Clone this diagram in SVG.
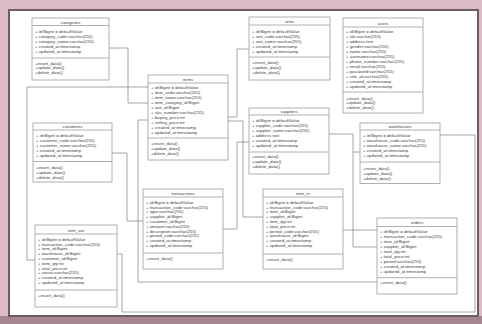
<svg xmlns="http://www.w3.org/2000/svg" width="482" height="324" viewBox="0 0 482 324">
  <style>
    .box { fill: #ffffff; stroke: #9c9c9c; stroke-width: 0.8; }
    .sep { stroke: #9c9c9c; stroke-width: 0.8; }
    .conn { fill: none; stroke: #8e8e8e; stroke-width: 0.8; }
    .t { font-family: "Liberation Sans", Arial, sans-serif; font-size: 4.3px; fill: #3c3c3c; }
    .title { font-family: "Liberation Sans", Arial, sans-serif; font-size: 4.3px; fill: #3c3c3c; text-anchor: middle; }
  </style>

  <!-- page frame -->
  <rect x="0" y="0" width="482" height="324" fill="#dcbac6"/>
  <rect x="0" y="316" width="482" height="8" fill="#a88593"/>
  <rect x="9" y="10" width="469" height="306" fill="#ffffff" stroke="#6b5d63" stroke-width="2"/>

  <!-- connectors -->
  <g id="connectors">
    <path class="conn" d="M109,48 H128 V103 H148"/>
    <path class="conn" d="M148,87 H27 V260 H35"/>
    <path class="conn" d="M249,49 H237 V117 H228"/>
    <path class="conn" d="M249,142 H237 V229 H223"/>
    <path class="conn" d="M228,121 H243 V217 H263"/>
    <path class="conn" d="M112,153 H127 V221 H143"/>
    <path class="conn" d="M148,120 H138 V282 H377"/>
    <path class="conn" d="M343,230 H377"/>
    <path class="conn" d="M329,134 H353 V247 H377"/>
    <path class="conn" d="M360,152 H353"/>
    <path class="conn" d="M117,254 H122 V312 H475 V135 H440"/>
  </g>

  <!-- categories -->
  <g id="categories">
    <rect class="box" x="32" y="18" width="77" height="62"/>
    <text class="title" x="70.5" y="23.5">categories</text>
    <line class="sep" x1="32" y1="25.5" x2="109" y2="25.5"/>
    <text class="t" x="35" y="33.2">+ id:Bigint = defaultValue<tspan x="35" dy="5">+ category_code:varchar(255)</tspan><tspan x="35" dy="5">+ category_name:varchar(255)</tspan><tspan x="35" dy="5">+ created_at:timestamp</tspan><tspan x="35" dy="5">+ updated_at:timestamp</tspan></text>
    <line class="sep" x1="32" y1="58" x2="109" y2="58"/>
    <text class="t" x="35" y="64.5">+insert_data()<tspan x="35" dy="4.6">+update_data()</tspan><tspan x="35" dy="4.6">+delete_data()</tspan></text>
  </g>

  <!-- items -->
  <g id="items">
    <rect class="box" x="148" y="75" width="80" height="85"/>
    <text class="title" x="188" y="80.5">items</text>
    <line class="sep" x1="148" y1="83" x2="228" y2="83"/>
    <text class="t" x="151" y="89.2">+ id:Bigint = defaultValue<tspan x="151" dy="5">+ item_code:varchar(255)</tspan><tspan x="151" dy="5">+ item_name:varchar(255)</tspan><tspan x="151" dy="5">+ item_category_id:Bigint</tspan><tspan x="151" dy="5">+ unit_id:Bigint</tspan><tspan x="151" dy="5">+ sku_number:varchar(255)</tspan><tspan x="151" dy="5">+ buying_price:int</tspan><tspan x="151" dy="5">+ selling_price:int</tspan><tspan x="151" dy="5">+ created_at:timestamp</tspan><tspan x="151" dy="5">+ updated_at:timestamp</tspan></text>
    <line class="sep" x1="148" y1="138" x2="228" y2="138"/>
    <text class="t" x="151" y="144.5">+insert_data()<tspan x="151" dy="5">+update_data()</tspan><tspan x="151" dy="5">+delete_data()</tspan></text>
  </g>

  <!-- units -->
  <g id="units">
    <rect class="box" x="249" y="17" width="81" height="63"/>
    <text class="title" x="289.5" y="22.5">units</text>
    <line class="sep" x1="249" y1="25" x2="330" y2="25"/>
    <text class="t" x="252" y="33.2">+ id:Bigint = defaultValue<tspan x="252" dy="5">+ unit_code:varchar(255)</tspan><tspan x="252" dy="5">+ unit_name:varchar(255)</tspan><tspan x="252" dy="5">+ created_at:timestamp</tspan><tspan x="252" dy="5">+ updated_at:timestamp</tspan></text>
    <line class="sep" x1="249" y1="57" x2="330" y2="57"/>
    <text class="t" x="252" y="64.2">+insert_data()<tspan x="252" dy="5">+update_data()</tspan><tspan x="252" dy="5">+delete_data()</tspan></text>
  </g>

  <!-- users -->
  <g id="users">
    <rect class="box" x="343" y="18" width="80" height="95"/>
    <text class="title" x="383" y="24.5">users</text>
    <line class="sep" x1="343" y1="27" x2="423" y2="27"/>
    <text class="t" x="346" y="33.2">+ id:Bigint = defaultValue<tspan x="346" dy="5">+ nik:varchar(255)</tspan><tspan x="346" dy="5">+ address:text</tspan><tspan x="346" dy="5">+ gender:varchar(255)</tspan><tspan x="346" dy="5">+ name:varchar(255)</tspan><tspan x="346" dy="5">+ username:varchar(255)</tspan><tspan x="346" dy="5">+ phone_number:varchar(255)</tspan><tspan x="346" dy="5">+ email:varchar(255)</tspan><tspan x="346" dy="5">+ password:varchar(255)</tspan><tspan x="346" dy="5">+ role_id:varchar(255)</tspan><tspan x="346" dy="5">+ created_at:timestamp</tspan><tspan x="346" dy="5">+ updated_at:timestamp</tspan></text>
    <line class="sep" x1="343" y1="92" x2="423" y2="92"/>
    <text class="t" x="346" y="99.5">+insert_data()<tspan x="346" dy="4.8">+update_data()</tspan><tspan x="346" dy="4.8">+delete_data()</tspan></text>
  </g>

  <!-- customers -->
  <g id="customers">
    <rect class="box" x="33" y="123" width="79" height="59"/>
    <text class="title" x="72.5" y="127.8">customers</text>
    <line class="sep" x1="33" y1="130" x2="112" y2="130"/>
    <text class="t" x="36" y="136.5">+ id:Bigint = defaultValue<tspan x="36" dy="5">+ customer_code:varchar(255)</tspan><tspan x="36" dy="5">+ customer_name:varchar(255)</tspan><tspan x="36" dy="5">+ created_at:timestamp</tspan><tspan x="36" dy="5">+ updated_at:timestamp</tspan></text>
    <line class="sep" x1="33" y1="161.5" x2="112" y2="161.5"/>
    <text class="t" x="36" y="168.8">+insert_data()<tspan x="36" dy="5">+update_data()</tspan><tspan x="36" dy="5">+delete_data()</tspan></text>
  </g>

  <!-- suppliers -->
  <g id="suppliers">
    <rect class="box" x="249" y="108" width="80" height="66"/>
    <text class="title" x="289" y="112.8">suppliers</text>
    <line class="sep" x1="249" y1="115" x2="329" y2="115"/>
    <text class="t" x="252" y="121.5">+ id:Bigint = defaultValue<tspan x="252" dy="5">+ supplier_code:varchar(255)</tspan><tspan x="252" dy="5">+ supplier_name:varchar(255)</tspan><tspan x="252" dy="5">+ address:text</tspan><tspan x="252" dy="5">+ created_at:timestamp</tspan><tspan x="252" dy="5">+ updated_at:timestamp</tspan></text>
    <line class="sep" x1="249" y1="152" x2="329" y2="152"/>
    <text class="t" x="252" y="158.2">+insert_data()<tspan x="252" dy="5">+update_data()</tspan><tspan x="252" dy="5">+delete_data()</tspan></text>
  </g>

  <!-- warehouses -->
  <g id="warehouses">
    <rect class="box" x="360" y="123" width="80" height="60.5"/>
    <text class="title" x="400" y="127.8">warehouses</text>
    <line class="sep" x1="360" y1="130" x2="440" y2="130"/>
    <text class="t" x="363" y="136.5">+ id:Bigint = defaultValue<tspan x="363" dy="5">+ warehouse_code:varchar(255)</tspan><tspan x="363" dy="5">+ warehouse_name:varchar(255)</tspan><tspan x="363" dy="5">+ created_at:timestamp</tspan><tspan x="363" dy="5">+ updated_at:timestamp</tspan></text>
    <line class="sep" x1="360" y1="162" x2="440" y2="162"/>
    <text class="t" x="363" y="169.5">+insert_data()<tspan x="363" dy="5">+update_data()</tspan><tspan x="363" dy="5">+delete_data()</tspan></text>
  </g>

  <!-- transactions -->
  <g id="transactions">
    <rect class="box" x="143" y="189" width="80" height="80"/>
    <text class="title" x="183" y="194.8">transactions</text>
    <line class="sep" x1="143" y1="197" x2="223" y2="197"/>
    <text class="t" x="146" y="203.8">+ id:Bigint = defaultValue<tspan x="146" dy="4.8">+ transaction_code:varchar(255)</tspan><tspan x="146" dy="4.8">+ type:varchar(255)</tspan><tspan x="146" dy="4.8">+ supplier_id:Bigint</tspan><tspan x="146" dy="4.8">+ customer_id:Bigint</tspan><tspan x="146" dy="4.8">+ amount:varchar(255)</tspan><tspan x="146" dy="4.8">+ description:varchar(255)</tspan><tspan x="146" dy="4.8">+ period_code:varchar(255)</tspan><tspan x="146" dy="4.8">+ created_at:timestamp</tspan><tspan x="146" dy="4.8">+ updated_at:timestamp</tspan></text>
    <line class="sep" x1="143" y1="253" x2="223" y2="253"/>
    <text class="t" x="146" y="259.8">+insert_data()</text>
  </g>

  <!-- item_in -->
  <g id="item_in">
    <rect class="box" x="263" y="189" width="80" height="80"/>
    <text class="title" x="303" y="194.8">item_in</text>
    <line class="sep" x1="263" y1="197" x2="343" y2="197"/>
    <text class="t" x="266" y="203.8">+ id:Bigint = defaultValue<tspan x="266" dy="4.8">+ transaction_code:varchar(255)</tspan><tspan x="266" dy="4.8">+ item_id:Bigint</tspan><tspan x="266" dy="4.8">+ supplier_id:Bigint</tspan><tspan x="266" dy="4.8">+ item_qty:int</tspan><tspan x="266" dy="4.8">+ total_price:int</tspan><tspan x="266" dy="4.8">+ period_code:varchar(255)</tspan><tspan x="266" dy="4.8">+ warehouse_id:Bigint</tspan><tspan x="266" dy="4.8">+ created_at:timestamp</tspan><tspan x="266" dy="4.8">+ updated_at:timestamp</tspan></text>
    <line class="sep" x1="263" y1="254" x2="343" y2="254"/>
    <text class="t" x="266" y="260.5">+insert_data()</text>
  </g>

  <!-- orders -->
  <g id="orders">
    <rect class="box" x="377" y="218" width="80" height="76"/>
    <text class="title" x="417" y="224.2">orders</text>
    <line class="sep" x1="377" y1="226.5" x2="457" y2="226.5"/>
    <text class="t" x="380" y="233.2">+ id:Bigint = defaultValue<tspan x="380" dy="5">+ transaction_code:varchar(255)</tspan><tspan x="380" dy="5">+ item_id:Bigint</tspan><tspan x="380" dy="5">+ supplier_id:Bigint</tspan><tspan x="380" dy="5">+ total_qty:int</tspan><tspan x="380" dy="5">+ total_price:int</tspan><tspan x="380" dy="5">+ period:varchar(255)</tspan><tspan x="380" dy="5">+ created_at:timestamp</tspan><tspan x="380" dy="5">+ updated_at:timestamp</tspan></text>
    <line class="sep" x1="377" y1="277.7" x2="457" y2="277.7"/>
    <text class="t" x="380" y="284.2">+insert_data()</text>
  </g>

  <!-- item_out -->
  <g id="item_out">
    <rect class="box" x="35" y="225" width="82" height="82"/>
    <text class="title" x="76" y="231.5">item_out</text>
    <line class="sep" x1="35" y1="234" x2="117" y2="234"/>
    <text class="t" x="38" y="240.8">+ id:Bigint = defaultValue<tspan x="38" dy="4.8">+ transaction_code:varchar(255)</tspan><tspan x="38" dy="4.8">+ item_id:Bigint</tspan><tspan x="38" dy="4.8">+ warehouse_id:Bigint</tspan><tspan x="38" dy="4.8">+ customer_id:Bigint</tspan><tspan x="38" dy="4.8">+ item_qty:int</tspan><tspan x="38" dy="4.8">+ total_price:int</tspan><tspan x="38" dy="4.8">+ status:varchar(255)</tspan><tspan x="38" dy="4.8">+ created_at:timestamp</tspan><tspan x="38" dy="4.8">+ updated_at:timestamp</tspan></text>
    <line class="sep" x1="35" y1="290" x2="117" y2="290"/>
    <text class="t" x="38" y="297.2">+insert_data()</text>
  </g>
</svg>
